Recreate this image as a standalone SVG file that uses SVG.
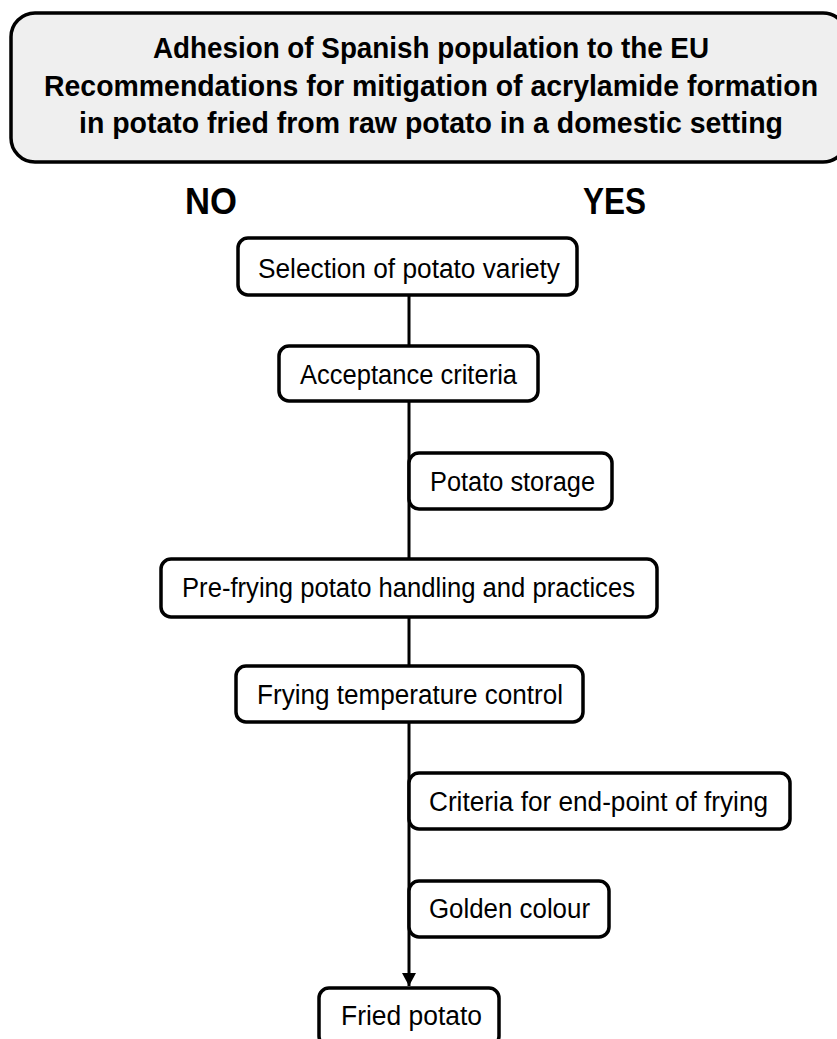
<svg xmlns="http://www.w3.org/2000/svg" width="837" height="1039" viewBox="0 0 837 1039">
<defs>
<style>
.node rect{fill:#ffffff;stroke:#000000;stroke-width:3.5}
.node text{font-family:"Liberation Sans",Arial,sans-serif;font-size:27px;fill:#000000;text-anchor:start}
.title text{font-family:"Liberation Sans",Arial,sans-serif;font-size:29px;font-weight:bold;fill:#000000}
.lbl{font-family:"Liberation Sans",Arial,sans-serif;font-size:37px;font-weight:bold;fill:#000000}
.conn{stroke:#000000;stroke-width:3;fill:none}
</style>
<marker id="arr" markerWidth="16" markerHeight="14" refX="13" refY="7" orient="auto" markerUnits="userSpaceOnUse">
<path d="M0,0 L13,7 L0,14 Z" fill="#000000"/>
</marker>
</defs>
<rect width="837" height="1039" fill="#ffffff"/>
<g id="title" class="title">
<rect x="11" y="13" width="836" height="149" rx="24" ry="24" fill="#efefef" stroke="#000000" stroke-width="3.5"/>
<text x="153" y="58" textLength="556" lengthAdjust="spacingAndGlyphs">Adhesion of Spanish population to the EU</text>
<text x="44" y="96" textLength="774" lengthAdjust="spacingAndGlyphs">Recommendations for mitigation of acrylamide formation</text>
<text x="79" y="133" textLength="704" lengthAdjust="spacingAndGlyphs">in potato fried from raw potato in a domestic setting</text>
</g>
<g id="label-no"><text class="lbl" x="185" y="214" textLength="52" lengthAdjust="spacingAndGlyphs">NO</text></g>
<g id="label-yes"><text class="lbl" x="583" y="214" textLength="63" lengthAdjust="spacingAndGlyphs">YES</text></g>
<g id="connectors">
<line class="conn" x1="409" y1="295" x2="409" y2="986" marker-end="url(#arr)"/>
</g>
<g id="n1" class="node"><rect x="238" y="238" width="339" height="57" rx="10"/><text x="258" y="278" textLength="302" lengthAdjust="spacingAndGlyphs">Selection of potato variety</text></g>
<g id="n2" class="node"><rect x="279" y="346" width="259" height="55" rx="10"/><text x="300" y="384" textLength="217" lengthAdjust="spacingAndGlyphs">Acceptance criteria</text></g>
<g id="n3" class="node"><rect x="409" y="453" width="203" height="56" rx="10"/><text x="430" y="491" textLength="165" lengthAdjust="spacingAndGlyphs">Potato storage</text></g>
<g id="n4" class="node"><rect x="161" y="559" width="496" height="58" rx="10"/><text x="182" y="597" textLength="453" lengthAdjust="spacingAndGlyphs">Pre-frying potato handling and practices</text></g>
<g id="n5" class="node"><rect x="236" y="666" width="347" height="56" rx="10"/><text x="257" y="704" textLength="306" lengthAdjust="spacingAndGlyphs">Frying temperature control</text></g>
<g id="n6" class="node"><rect x="409" y="773" width="381" height="56" rx="10"/><text x="429" y="811" textLength="339" lengthAdjust="spacingAndGlyphs">Criteria for end-point of frying</text></g>
<g id="n7" class="node"><rect x="409" y="881" width="200" height="56" rx="10"/><text x="429" y="918" textLength="161" lengthAdjust="spacingAndGlyphs">Golden colour</text></g>
<g id="n8" class="node"><rect x="319" y="988" width="180" height="58" rx="10"/><text x="341" y="1025" textLength="141" lengthAdjust="spacingAndGlyphs">Fried potato</text></g>
</svg>
